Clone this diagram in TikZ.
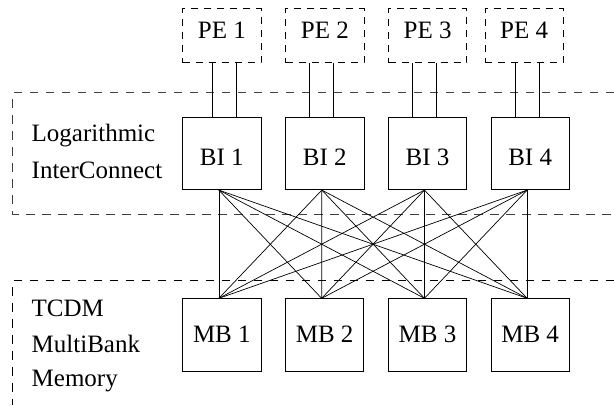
\documentclass[tikz,border=0pt]{standalone}
\usepackage{fontspec}
\setmainfont{Liberation Serif}
\begin{document}
\begin{tikzpicture}[x=1pt,y=-1pt,
  every node/.style={font=\fontsize{25}{30}\selectfont},
  unitbox/.style={draw, line width=0.8pt, inner sep=0pt, minimum width=78.3pt, anchor=north, align=center},
  pebox/.style={unitbox, dash pattern=on 7pt off 6pt, text height=30pt, text depth=24pt},
  bibox/.style={unitbox, text height=48.3pt, text depth=24.3pt},
  mbbox/.style={unitbox, text height=43.4pt, text depth=29.3pt},
  region/.style={line width=0.9pt, dash pattern=on 8.5pt off 7.5pt},
  wire/.style={line width=0.7pt},
  lbl/.style={anchor=base west, inner sep=0pt}]
\useasboundingbox (0,0) rectangle (614,405);
% regions
\draw[region, draw=black!75] (614,92.7) -- (12.7,92.7) -- (12.7,214) -- (614,214);
\draw[region] (614,280.5) -- (12.7,280.5) -- (12.7,405);
% PE boxes
\node[pebox] (pe1) at (221.85,8.3) {PE 1};
\node[pebox] (pe2) at (324.85,8.3) {PE 2};
\node[pebox] (pe3) at (427.65,8.3) {PE 3};
\node[pebox] (pe4) at (524.15,8.3) {PE 4};
% BI boxes
\node[bibox] (bi1) at (221.85,116.7) {BI 1};
\node[bibox] (bi2) at (324.85,116.7) {BI 2};
\node[bibox] (bi3) at (427.45,116.7) {BI 3};
\node[bibox] (bi4) at (530.15,116.7) {BI 4};
% MB boxes
\node[mbbox] (mb1) at (221.85,298.3) {MB 1};
\node[mbbox] (mb2) at (324.65,298.3) {MB 2};
\node[mbbox] (mb3) at (427.45,298.3) {MB 3};
\node[mbbox] (mb4) at (530.15,298.3) {MB 4};
% labels
\node[lbl] (lg1) at (31.5,141.7) {Logarithmic};
\node[lbl] (lg2) at (31.5,178.3) {InterConnect};
\node[lbl] (tc1) at (31.5,316.7) {TCDM};
\node[lbl] (tc2) at (31.5,352.7) {MultiBank};
\node[lbl] (tc3) at (31.5,386.7) {Memory};
% PE to BI links
\draw[wire] ([xshift=-9.15pt]bi1.north) -- ([xshift=-9.15pt]bi1.north |- pe1.south);
\draw[wire] ([xshift=14.85pt]bi1.north) -- ([xshift=14.85pt]bi1.north |- pe1.south);
\foreach \i in {2,3,4}{
  \draw[wire] ([xshift=-15.15pt]bi\i.north) -- ([xshift=-15.15pt]bi\i.north |- pe\i.south);
  \draw[wire] ([xshift=8.85pt]bi\i.north) -- ([xshift=8.85pt]bi\i.north |- pe\i.south);
}
% crossbar
\foreach \i in {1,2,3,4}{
  \foreach \j in {1,2,3,4}{
    \draw[wire] ([xshift=-3pt]bi\i.south) -- ([xshift=-3pt]mb\j.north);
  }
}
\end{tikzpicture}
\end{document}
